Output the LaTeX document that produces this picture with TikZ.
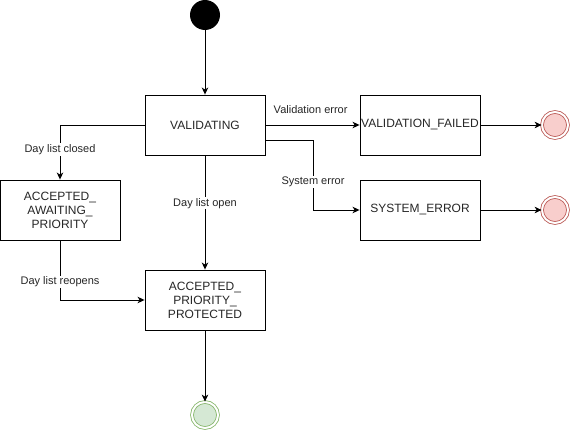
\documentclass[tikz,border=0pt]{standalone}
\usepackage{fontspec}
\setmainfont{Liberation Sans}
\usetikzlibrary{arrows.meta}
\definecolor{redline}{HTML}{B85450}
\definecolor{redfill}{HTML}{F8CECC}
\definecolor{greenline}{HTML}{82B366}
\definecolor{greenfill}{HTML}{D5E8D4}
\begin{document}
\begin{tikzpicture}[x=1pt,y=-1pt,
  state/.style={draw=black,line width=0.9pt,minimum width=120pt,minimum height=60pt,inner sep=0pt,align=center,font=\fontsize{12}{14}\selectfont,text=black!85},
  conn/.style={line width=0.9pt,-{Stealth[length=7pt,width=6.5pt,inset=2pt]}},
  lbl/.style={fill=white,inner sep=1pt,font=\fontsize{11}{13}\selectfont,text=black!85},
  startdot/.style={circle,fill=black,minimum size=30pt,inner sep=0pt},
  endred/.style={circle,draw=redline,double=white,double distance=2pt,line width=0.8pt,fill=redfill,minimum size=26pt,inner sep=0pt},
  endgreen/.style={circle,draw=greenline,double=white,double distance=2pt,line width=0.8pt,fill=greenfill,minimum size=26pt,inner sep=0pt}]
\useasboundingbox (0,0) rectangle (571,431);
\node[startdot] (start) at (205,15) {};
\node[state] (val) at (205,125) {VALIDATING};
\node[state] (vf) at (420,125) {VALIDATION\_FAILED};
\node[state] (se) at (420,210) {SYSTEM\_ERROR};
\node[state] (await) at (60,210) {ACCEPTED\_\\AWAITING\_\\PRIORITY};
\node[state] (prot) at (205,300) {ACCEPTED\_\\PRIORITY\_\\PROTECTED};
\node[endred] (e1) at (555,125) {};
\node[endred] (e2) at (555,210) {};
\node[endgreen] (e3) at (205,415) {};
\coordinate (sesrc) at (265,140);
\coordinate (sebend) at (313,140);
\coordinate (awsrc) at (145,125);
\draw[conn] (start) -- (val);
\draw[conn] (val) -- node[lbl,above=10pt,pos=0.48,fill=none] {Validation error} (vf);
\draw[conn] (sesrc) -- (sebend) -- node[lbl,pos=0.6] {System error} (sebend |- se) -- (se);
\draw[conn] (awsrc) -- (awsrc -| await) -- node[lbl,pos=0.45] {Day list closed} (await);
\draw[conn] (val) -- node[lbl,pos=0.42] {Day list open} (prot);
\draw[conn] (await) -- node[lbl,pos=0.7] {Day list reopens} (await |- prot) -- (prot);
\draw[conn] (prot) -- (e3);
\draw[conn] (vf) -- (e1);
\draw[conn] (se) -- (e2);
\end{tikzpicture}
\end{document}
